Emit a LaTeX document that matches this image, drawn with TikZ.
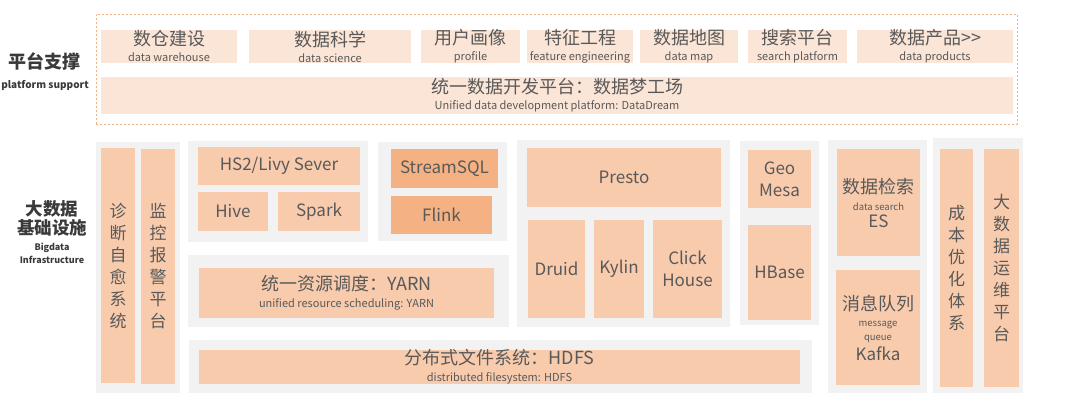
\documentclass[tikz,border=0pt]{standalone}
\usepackage{fontspec}
\setmainfont{Noto Sans CJK SC}
\definecolor{peach}{HTML}{F8CBAD}
\definecolor{deeppeach}{HTML}{F4B183}
\definecolor{palepeach}{HTML}{FBE5D6}
\definecolor{panelgray}{HTML}{F2F2F2}
\definecolor{txtgray}{HTML}{595959}
\definecolor{lblgray}{HTML}{3A3A3A}
\newcommand{\zhtxt}[1]{{\fontsize{18}{21}\selectfont #1}}
\newcommand{\entxt}[1]{{\fontsize{11}{12}\selectfont #1}}
\newcommand{\tinytxt}[1]{{\fontsize{9.5}{10}\selectfont #1}}

\begin{document}
\begin{tikzpicture} [
    x=1pt, y=-1pt,
    panel/.style={rectangle, fill=panelgray, inner sep=0pt, outer sep=0pt},
    tile/.style={rectangle, fill=palepeach, inner sep=0pt, text=txtgray, align=center, font=\fontsize{11}{16}\selectfont},
    cell/.style={rectangle, fill=peach, inner sep=0pt, text=txtgray, align=center, font=\fontsize{17}{22}\selectfont},
    hot/.style={cell, fill=deeppeach},
    textcell/.style={cell, font=\fontsize{11}{17}\selectfont},
    sidelabel/.style={text=lblgray, align=center, font=\bfseries\fontsize{10}{20}\selectfont}
]
\useasboundingbox (0,0) rectangle (1080,417);

% platform support layer
\node[draw=deeppeach, line width=0.6pt, dash pattern=on 2pt off 2pt, minimum width=921pt, minimum height=110pt, inner sep=0pt] (platform) at (556.5,69) {};
\node[tile, minimum width=136pt, minimum height=33pt] (dwh) at (169,46.5) {\zhtxt{数仓建设}\\\entxt{data warehouse}};
\node[tile, minimum width=162pt, minimum height=33pt] (dsci) at (330,46.5) {\zhtxt{数据科学}\\\entxt{data science}};
\node[tile, minimum width=99pt, minimum height=33pt] (profile) at (470.5,46.5) {\zhtxt{用户画像}\\\entxt{profile}};
\node[tile, minimum width=106pt, minimum height=33pt] (feature) at (580,46.5) {\zhtxt{特征工程}\\\entxt{feature engineering}};
\node[tile, minimum width=98pt, minimum height=33pt] (dmap) at (689,46.5) {\zhtxt{数据地图}\\\entxt{data map}};
\node[tile, minimum width=99pt, minimum height=33pt] (search) at (797.5,46.5) {\zhtxt{搜索平台}\\\entxt{search platform}};
\node[tile, minimum width=156pt, minimum height=33pt] (product) at (935,46.5) {\zhtxt{数据产品>{}>}\\\entxt{data products}};
\node[tile, minimum width=912pt, minimum height=37pt] (datadream) at (557,95.5) {\zhtxt{统一数据开发平台：数据梦工场}\\\entxt{Unified data development platform: DataDream}};

% side labels
\node[sidelabel] (lblplat) at (45,72) {{\fontsize{18}{20}\selectfont 平台支撑}\\platform support};
\node[sidelabel, font=\bfseries\fontsize{9}{19}\selectfont] (lblinfra) at (52,232) {{\fontsize{17.5}{20}\selectfont 大数据}\\{\fontsize{17.5}{20}\selectfont 基础设施}\\[-3pt]Bigdata\\[-6pt]Infrastructure};

% gray panels
\node[panel, minimum width=84pt, minimum height=251pt] (opspanel) at (138,267.5) {};
\node[panel, minimum width=180pt, minimum height=101pt] (sqlpanel) at (278,191.5) {};
\node[panel, minimum width=129pt, minimum height=99pt] (streampanel) at (442.5,191.5) {};
\node[panel, minimum width=321pt, minimum height=72pt] (yarnpanel) at (348.5,291) {};
\node[panel, minimum width=623pt, minimum height=53pt] (hdfspanel) at (500.5,366.5) {};
\node[panel, minimum width=213pt, minimum height=187pt] (olappanel) at (623.5,233.5) {};
\node[panel, minimum width=79pt, minimum height=184pt] (kvpanel) at (779.5,233) {};
\node[panel, minimum width=99pt, minimum height=253pt] (mqpanel) at (877.5,266.5) {};
\node[panel, minimum width=90pt, minimum height=255pt] (costpanel) at (978,265.5) {};

% infrastructure boxes
\node[cell, minimum width=34pt, minimum height=235pt] (diag) at (118,265.5) {诊\\断\\自\\愈\\系\\统};
\node[cell, minimum width=34pt, minimum height=235pt] (monitor) at (158,266.5) {监\\控\\报\\警\\平\\台};
\node[cell, minimum width=162pt, minimum height=38pt] (hs2) at (279,166) {HS2/Livy Sever};
\node[cell, minimum width=70pt, minimum height=39pt] (hive) at (233,211.5) {Hive};
\node[cell, minimum width=82pt, minimum height=39pt] (spark) at (319,211.5) {Spark};
\node[hot, minimum width=107pt, minimum height=39pt] (streamsql) at (444.5,168.5) {StreamSQL};
\node[hot, minimum width=101pt, minimum height=38pt] (flink) at (441.5,215) {Flink};
\node[textcell, minimum width=295pt, minimum height=50pt] (yarn) at (346.5,293) {\zhtxt{统一资源调度：YARN}\\\entxt{unified resource scheduling: YARN}};
\node[textcell, minimum width=601pt, minimum height=34pt] (hdfs) at (499.5,367) {\zhtxt{分布式文件系统：HDFS}\\\entxt{distributed filesystem: HDFS}};
\node[cell, minimum width=194pt, minimum height=59pt] (presto) at (624,177.5) {Presto};
\node[cell, minimum width=57pt, minimum height=98pt] (druid) at (556.5,269) {Druid};
\node[cell, minimum width=50pt, minimum height=98pt] (kylin) at (619,269) {Kylin};
\node[cell, minimum width=69pt, minimum height=98pt] (click) at (687.5,269) {Click\\House};
\node[cell, minimum width=63pt, minimum height=58pt] (geomesa) at (779.5,179) {Geo\\Mesa};
\node[cell, minimum width=63pt, minimum height=95pt] (hbase) at (779.5,272.5) {HBase};
\node[textcell, minimum width=83pt, minimum height=107pt] (es) at (878.5,202.5) {\zhtxt{数据检索}\\\tinytxt{data search}\\{\fontsize{17}{20}\selectfont ES}};
\node[textcell, font=\fontsize{11}{14}\selectfont, minimum width=84pt, minimum height=115pt] (kafka) at (878,327.5) {\zhtxt{消息队列}\\[2pt]\tinytxt{message}\\\tinytxt{queue}\\[3pt]{\fontsize{17}{20}\selectfont Kafka}};
\node[cell, minimum width=33pt, minimum height=238pt] (cost) at (956.5,268) {成\\本\\优\\化\\体\\系};
\node[cell, minimum width=35pt, minimum height=238pt] (opsplat) at (1001.5,268) {大\\数\\据\\运\\维\\平\\台};

\end{tikzpicture}
\end{document}
